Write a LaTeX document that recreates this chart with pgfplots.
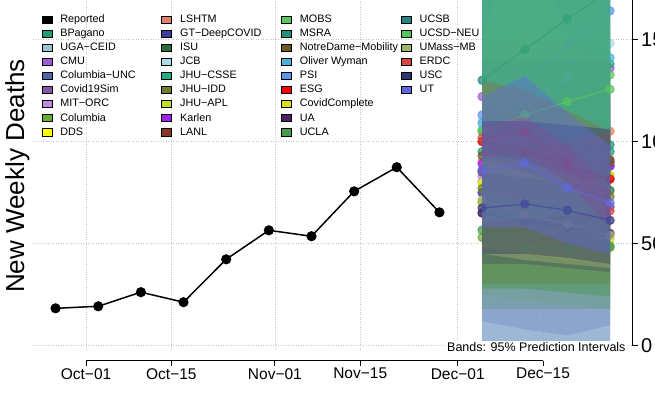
\documentclass[border=0pt]{standalone}
\usepackage{pgfplots}
\pgfplotsset{compat=1.18}
\usepackage{fontspec}
\setmainfont{Liberation Sans}

\definecolor{cBPagano}{HTML}{1B9E77}
\definecolor{cUGA}{HTML}{9CC3D2}
\definecolor{cCMU}{HTML}{A259D4}
\definecolor{cColUNC}{HTML}{4F66A8}
\definecolor{cCovSim}{HTML}{8A55A0}
\definecolor{cMIT}{HTML}{C08AE0}
\definecolor{cColumbia}{HTML}{6AAC2F}
\definecolor{cDDS}{HTML}{FFFF00}
\definecolor{cLSHTM}{HTML}{DF8064}
\definecolor{cGT}{HTML}{3C3D9A}
\definecolor{cISU}{HTML}{2D6A35}
\definecolor{cJCB}{HTML}{ADDBEB}
\definecolor{cCSSE}{HTML}{26AB82}
\definecolor{cIDD}{HTML}{6F7E2B}
\definecolor{cAPL}{HTML}{BEDD2A}
\definecolor{cKarlen}{HTML}{A020F0}
\definecolor{cLANL}{HTML}{8B3525}
\definecolor{cMOBS}{HTML}{58C862}
\definecolor{cMSRA}{HTML}{20917F}
\definecolor{cND}{HTML}{6E5A23}
\definecolor{cOW}{HTML}{4BB0DC}
\definecolor{cPSI}{HTML}{5E94E5}
\definecolor{cESG}{HTML}{FF0000}
\definecolor{cCC}{HTML}{DEDE1E}
\definecolor{cUA}{HTML}{4D2066}
\definecolor{cUCLA}{HTML}{469A4E}
\definecolor{cUCSB}{HTML}{218787}
\definecolor{cUCSD}{HTML}{55C55E}
\definecolor{cUMass}{HTML}{A0B46A}
\definecolor{cERDC}{HTML}{D64545}
\definecolor{cUSC}{HTML}{2F3470}
\definecolor{cUT}{HTML}{6068E0}

\tikzset{gs/.style={gray!45, dotted, line width=0.5pt}}
\def\bop{0.3}
\def\lop{0.7}
% band: color, lo1..lo4 ; hi1..hi4 ;
\def\band#1#2,#3,#4,#5;#6,#7,#8,#9;{\addplot[draw=none,fill=#1,fill opacity=\bop,forget plot] coordinates {(65,#2)(72,#3)(79,#4)(86,#5)(86,#9)(79,#8)(72,#7)(65,#6)(65,#2)};}
% median line: color, m1..m4 ;
\def\med#1#2,#3,#4,#5;{\addplot[#1,line width=1.4pt,opacity=\lop,mark=*,mark size=4pt,mark options={solid},forget plot] coordinates {(65,#2)(72,#3)(79,#4)(86,#5)};}
\newcommand\lgd[2]{\addlegendimage{lsq,fill=#1}\addlegendentry{\makebox[100pt][l]{#2}}}
\newcommand\lgempty{\addlegendimage{empty legend}\addlegendentry{}}

\pgfplotsset{lsq/.style={legend image code/.code={\fill[##1] (0pt,-3.6pt) rectangle (10pt,3.6pt);}}}

\begin{document}
\begin{tikzpicture}
\path[use as bounding box, clip] (-33.4pt,-42.3pt) rectangle (621.6pt,360.7pt);
\begin{axis}[
  at={(0pt,0pt)}, anchor=south west,
  scale only axis, width=598.8pt, height=360.7pt,
  xmin=-8.64, xmax=89.64, ymin=-7.35, ymax=169.3,
  axis x line*=bottom, axis y line*=right,
  axis line style={draw=none},
  clip mode=individual,
  xtick={0,14,31,45,61,75},
  xticklabels={Oct−01,Oct−15,Nov−01,Nov−15,Dec−01,Dec−15},
  ytick={0,50,100,150}, yticklabels={0,50,100,150},
  tick align=outside, major tick length=5.5pt,
  tick style={black, line width=1pt},
  x tick label style={font=\fontsize{15.5}{18}\selectfont, yshift=1.5pt},
  y tick label style={font=\fontsize{20}{24}\selectfont},
  legend columns=4,
  legend style={at={(0,1)}, anchor=north west, xshift=7.9pt, yshift=-13.2pt,
    draw=none, fill=none, inner sep=0pt,
    font=\fontsize{10.8}{12}\selectfont,
    nodes={inner sep=1pt, text height=8pt, text depth=2pt},
    row sep=2.1pt,
    /tikz/every odd column/.append style={column sep=7.4pt},
    /tikz/every even column/.append style={column sep=0pt}},
  legend cell align=left,
]
% grid
\draw[gs] (axis cs:-8.64,0) -- (axis cs:89.64,0);
\draw[gs] (axis cs:-8.64,50) -- (axis cs:89.64,50);
\draw[gs] (axis cs:-8.64,100) -- (axis cs:89.64,100);
\draw[gs] (axis cs:-8.64,150) -- (axis cs:89.64,150);
\draw[gs] (axis cs:0,-2) -- (axis cs:0,169.3);
\draw[gs] (axis cs:14,-2) -- (axis cs:14,169.3);
\draw[gs] (axis cs:31,-2) -- (axis cs:31,169.3);
\draw[gs] (axis cs:45,-2) -- (axis cs:45,169.3);
\draw[gs] (axis cs:61,-2) -- (axis cs:61,169.3);
\draw[gs] (axis cs:75,-2) -- (axis cs:75,169.3);
% reported
\addplot[black, line width=1.5pt, mark=*, mark size=4.3pt, forget plot] coordinates {
(-5,18.3)(2,19.3)(9,26.2)(16,21.3)(23,42.3)(30,56.5)(37,53.6)(44,75.6)(51,87.4)(58,65.3)};
% forecasts: band then median
\band{cBPagano}60,62,63,64;115,120,125,130;  \med{cBPagano}86,90,92,95;
\band{cUGA}2,2,2,2;160,175,185,195;          \med{cUGA}75,72,70,68;
\band{cCMU}80,82,84,86;180,190,200,210;      \med{cCMU}122,128,132,136;
\band{cColUNC}12,8,5,10;140,145,150,155;     \med{cColUNC}80,82,85,88;
\band{cCovSim}40,40,40,40;100,102,104,106;   \med{cCovSim}65,66,67,68;
\band{cMIT}60,60,60,60;115,118,120,122;      \med{cMIT}83,86,88,90;
\band{cColumbia}25,22,20,18;110,110,110,110; \med{cColumbia}53,50,49,48;
\band{cDDS}60,62,64,66;100,102,104,106;      \med{cDDS}79.5,81,82,83.5;
\band{cLSHTM}30,30,30,30;200,210,220,230;    \med{cLSHTM}90,95,100,105;
\band{cGT}2,2,2,2;120,122,124,126;           \med{cGT}75,78,80,82;
\band{cISU}18,18,18,18;180,185,190,195;      \med{cISU}70,72,74,76;
\band{cJCB}1,1,1,1;250,260,270,280;          \med{cJCB}110,125,137,148;
\band{cCSSE}60,62,64,66;200,210,220,230;     \med{cCSSE}100,112,125,138;
\band{cIDD}30,30,30,30;150,150,150,150;      \med{cIDD}77,75,74,73;
\band{cAPL}60,100,60,50;150,220,150,130;     \med{cAPL}105,153,97,83.5;
\band{cKarlen}70,70,70,70;110,110,110,110;   \med{cKarlen}89,88,88,88;
\band{cLANL}60,60,60,60;115,118,120,122;     \med{cLANL}85,87,89,91;
\band{cMOBS}50,52,54,56;220,230,240,250;     \med{cMOBS}105.7,116,126,132.6;
\band{cMSRA}60,60,60,60;140,140,140,140;     \med{cMSRA}95,96,97,98.3;
\band{cND}50,50,50,50;140,140,140,140;       \med{cND}93,92,91,90;
\band{cOW}70,72,74,76;190,200,210,220;       \med{cOW}109,120,131,141;
\band{cPSI}80,82,84,86;220,235,250,265;      \med{cPSI}113,130,147,164;
\band{cESG}70,70,65,60;130,125,115,105;      \med{cESG}100,95,88,81.5;
\band{cCC}48,45,42,40;92,85,78,70;           \med{cCC}70,62,57,52;
\band{cUA}40,40,38,36;85,82,80,78;           \med{cUA}65,61,58,55;
\band{cUCLA}28,28,26,24;75,72,70,70;         \med{cUCLA}56.6,49,48,48.8;
\band{cUCSB}90,95,100,105;260,270,280,290;   \med{cUCSB}130,145,160,174;
\band{cUCSD}60,62,64,66;200,205,210,215;     \med{cUCSD}105,113,119.5,125.6;
\band{cUMass}45,42,40,38;95,90,84,78;        \med{cUMass}71.4,64.3,59.5,54;
\band{cERDC}92,94,80,58;108,112,98,76;       \med{cERDC}101.7,104.6,89.5,66;
\band{cUSC}45,45,43,40;110,110,108,106;      \med{cUSC}67.4,69.4,66.3,61.4;
\def\bop{0.42}
\band{cUT}58,58,50,45;122,132,114,98;        \med{cUT}85.5,89.5,77.3,70;
% legend (row-major to mimic column-major layout)
\lgd{black}{Reported}\lgd{cLSHTM}{LSHTM}\lgd{cMOBS}{MOBS}\lgd{cUCSB}{UCSB}
\lgd{cBPagano}{BPagano}\lgd{cGT}{GT−DeepCOVID}\lgd{cMSRA}{MSRA}\lgd{cUCSD}{UCSD−NEU}
\lgd{cUGA}{UGA−CEID}\lgd{cISU}{ISU}\lgd{cND}{NotreDame−Mobility}\lgd{cUMass}{UMass−MB}
\lgd{cCMU}{CMU}\lgd{cJCB}{JCB}\lgd{cOW}{Oliver Wyman}\lgd{cERDC}{ERDC}
\lgd{cColUNC}{Columbia−UNC}\lgd{cCSSE}{JHU−CSSE}\lgd{cPSI}{PSI}\lgd{cUSC}{USC}
\lgd{cCovSim}{Covid19Sim}\lgd{cIDD}{JHU−IDD}\lgd{cESG}{ESG}\lgd{cUT}{UT}
\lgd{cMIT}{MIT−ORC}\lgd{cAPL}{JHU−APL}\lgd{cCC}{CovidComplete}\lgempty
\lgd{cColumbia}{Columbia}\lgd{cKarlen}{Karlen}\lgd{cUA}{UA}\lgempty
\lgd{cDDS}{DDS}\lgd{cLANL}{LANL}\lgd{cUCLA}{UCLA}
% axis lines (R style)
\draw[line width=1.2pt] (axis cs:0,-7.35) -- (axis cs:75,-7.35);
\draw[line width=1.2pt] (axis cs:89.64,0) -- (axis cs:89.64,169.3);
\end{axis}
\node[rotate=90, font=\fontsize{26}{30}\selectfont] at (-16.1pt,184.7pt) {New Weekly Deaths};
\node[anchor=east, fill=white, inner sep=1pt, font=\fontsize{12.5}{14}\selectfont] at (593.3pt,14pt) {Bands: 95\% Prediction Intervals};
\end{tikzpicture}
\end{document}
